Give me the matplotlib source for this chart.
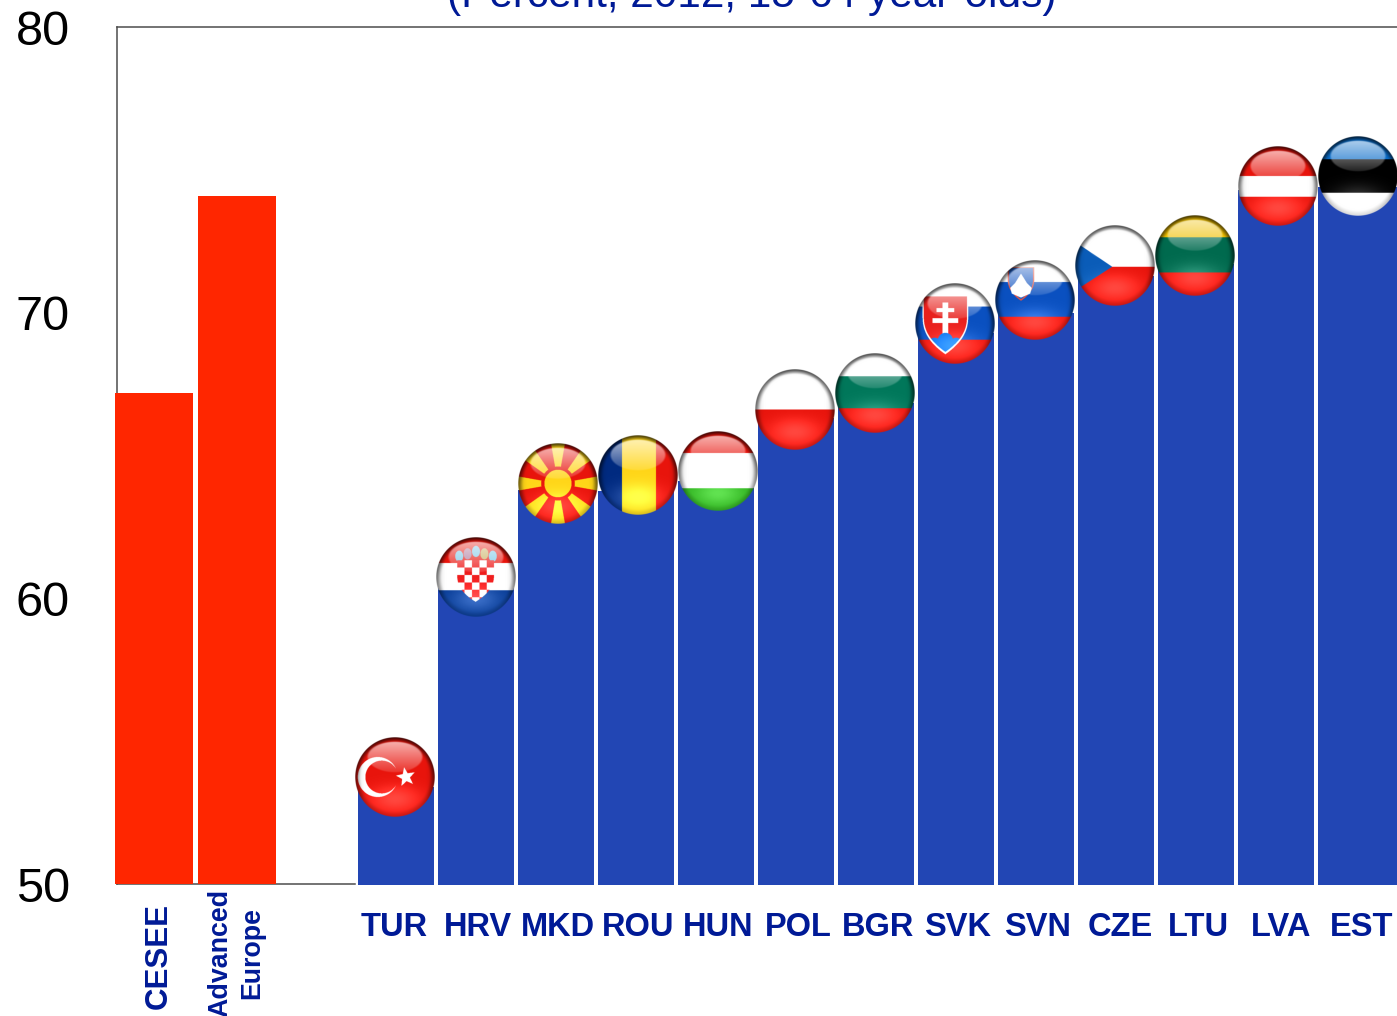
import numpy as np
import matplotlib
matplotlib.use("Agg")
import matplotlib.pyplot as plt
from matplotlib.path import Path

plt.rcParams['font.family'] = ['Liberation Sans', 'DejaVu Sans']

# ---- data ----
group_labels = ["CESEE", "Advanced\nEurope"]
group_values = [67.2, 74.1]
group_pos = [-0.025, 1.0125]

countries = ["TUR", "HRV", "MKD", "ROU", "HUN", "POL", "BGR", "SVK", "SVN", "CZE", "LTU", "LVA", "EST"]
country_values = [53.4, 60.35, 63.8, 63.75, 64.1, 66.3, 66.85, 69.3, 70.0, 71.3, 71.7, 74.3, 74.4]
country_pos = [3, 4, 5, 6, 7, 8, 9, 10, 11, 12, 13, 14, 15.02]
country_widths = [0.955] * 12 + [0.99]
badge_values = [53.75, 60.75, 64.0, 64.3, 64.45, 66.6, 67.2, 69.6, 70.45, 71.65, 72.0, 74.45, 74.8]
badge_shift = [-0.01, 0.0, 0.025, 0.025, 0.025, -0.01, -0.01, -0.01, -0.01, -0.01, -0.01, 0.025, 0.005]
label_shift = [-0.025, 0.025, 0.025, 0.025, 0.025, 0.025, 0.025, 0.025, 0.025, 0.05, 0.025, 0.0625, 0.055]
yticks = [50, 60, 70, 80]
title = "(Percent, 2012, 15-64 year-olds)"

NAVY = "#001a96"
BLUE = "#2246b4"
RED = "#ff2600"
W, H = 1397, 1016

# ---- flag badges ----
N = 320
xs = (np.arange(N) + 0.5) / N * 2 - 1
X, Y = np.meshgrid(xs, -xs)
R = np.hypot(X, Y)
PTS = np.column_stack([X.ravel(), Y.ravel()])


def c(h):
    return np.array(matplotlib.colors.to_rgb(h))


def poly(p):
    return Path(p).contains_points(PTS).reshape(X.shape)


def hstripes(cols, cuts):
    img = np.zeros(X.shape + (3,))
    img[:] = c(cols[-1])
    for col, cut in reversed(list(zip(cols[:-1], cuts))):
        img[Y > cut] = c(col)
    return img


def star(cx, cy, r, rot=90):
    a = np.deg2rad(np.arange(10) * 36 + rot)
    rr = np.where(np.arange(10) % 2 == 0, r, r * 0.42)
    return np.column_stack([cx + rr * np.cos(a), cy + rr * np.sin(a)])


def shield(l, rgt, top, bot):
    mx = (l + rgt) / 2
    t = np.linspace(0, 1, 24)
    s = top - 0.35 * (top - bot)
    right = np.column_stack([rgt - (rgt - mx) * t**2.4, s + (bot - s) * t])
    left = right[::-1].copy()
    left[:, 0] = 2 * mx - left[:, 0]
    return np.vstack([[l, top], [rgt, top], right, left])


RD = "#e8140c"
def flag(code):
    if code == "TUR":
        img = hstripes([RD], [])
        img[np.hypot(X + .43, Y) < .5] = c("#ffffff")
        img[np.hypot(X + .33, Y) < .41] = c(RD)
        img[poly(star(.27, 0, .25, 100))] = c("#ffffff")
    elif code == "HRV":
        img = hstripes([RD, "#ffffff", "#063a94"], [.35, -.33])
        cols = ["#7cc8e8", "#b07a9c", "#7cc8e8", "#c8b060", "#7cc8e8"]
        for k, col in enumerate(cols):
            cx = -.42 + k * .21
            cy = .58 + (.06 if k == 2 else 0) - (.06 if k in (0, 4) else 0)
            img[np.hypot((X - cx) / .1, (Y - cy) / .14) < 1] = c(col)
        sh = poly(shield(-.47, .45, .42, -.62))
        img[sh] = c("#ffffff")
        chk = (np.floor((X + .47) / .185) + np.floor((.42 - Y) / .185)) % 2 == 0
        img[sh & chk] = c("#ee1c1c")
    elif code == "MKD":
        img = hstripes([RD], [])
        ang = np.arctan2(Y, X)
        for k in range(8):
            a = np.deg2rad(k * 45)
            d = np.abs((ang - a + np.pi) % (2 * np.pi) - np.pi)
            img[d < np.deg2rad(10)] = c("#ffd518")
        img[R < .42] = c(RD)
        img[R < .34] = c("#ffd518")
    elif code == "ROU":
        img = hstripes([RD], [])
        img[X < .45] = c("#ffd518")
        img[X < -.4] = c("#002a80")
    elif code == "HUN":
        img = hstripes([RD, "#ffffff", "#2eb01e"], [.45, -.43])
    elif code == "POL":
        img = hstripes(["#ffffff", RD], [0])
    elif code == "BGR":
        img = hstripes(["#ffffff", "#00775a", RD], [.42, -.38])
    elif code == "SVK":
        img = hstripes(["#ffffff", "#0a50c0", RD], [.42, -.4])
        s = shield(-.78, .3, .67, -.7)
        img[poly(shield(-.81, .33, .69, -.76))] = c("#ffffff")
        img[poly(s)] = c("#e8201c")
        mx = -.24
        img[(np.abs(X - mx) < .07) & (Y > -.25) & (Y < .52)] = c("#ffffff")
        img[(np.abs(X - mx) < .22) & (np.abs(Y - .33) < .05)] = c("#ffffff")
        img[(np.abs(X - mx) < .32) & (np.abs(Y - .07) < .06)] = c("#ffffff")
        hills = (np.hypot(X - mx, Y + .42) < .19) | (np.hypot(X - mx + .27, Y + .5) < .15) | (np.hypot(X - mx - .27, Y + .5) < .15) | ((Y < -.45))
        img[poly(s) & hills] = c("#0a6fe0")
    elif code == "SVN":
        img = hstripes(["#ffffff", "#0a50c0", RD], [.45, -.42])
        img[poly(shield(-.68, -.02, .82, -.02))] = c("#e8503c")
        s = shield(-.65, -.05, .8, .02)
        img[poly(s)] = c("#1d5cc4")
        mtn = poly([(-.62, .3), (-.5, .42), (-.42, .55), (-.35, .66), (-.28, .55), (-.2, .42), (-.08, .3),
                    (-.12, .16), (-.35, .06), (-.58, .16)])
        img[mtn] = c("#ffffff")
    elif code == "CZE":
        img = hstripes(["#ffffff", RD], [-.03])
        img[poly([(-1.2, .72), (-.07, -.03), (-1.2, -.75)])] = c("#0a5cb8")
    elif code == "LTU":
        img = hstripes(["#f0c000", "#006a4e", RD], [.45, -.42])
    elif code == "LVA":
        img = hstripes([RD, "#ffffff", RD], [.25, -.27])
    else:
        img = hstripes(["#0a6cc8", "#000000", "#ffffff"], [.42, -.42])
    return img


def smooth(a, b, v):
    t = np.clip((v - a) / (b - a), 0, 1)
    return t * t * (3 - 2 * t)


def badge(code):
    img = flag(code)
    # bottom glow and edge fall-off
    glow = np.exp(-((X / .6) ** 2 + ((Y + .55) / .32) ** 2))
    img = np.clip(img + 0.2 * glow[..., None], 0, 1)
    rim = smooth(.84, 1.0, R) * (0.42 + 0.3 * Y)
    side = smooth(.74, 1.0, np.abs(X)) * 0.14
    img = img * (1 - np.clip(rim + side, 0, 1))[..., None]
    # upper highlight
    e = np.hypot(X / .72, (Y - .5) / .4)
    hl = (1 - smooth(.9, 1.0, e)) * np.clip(.12 + .55 * (Y - .1) / .8, 0, 1)
    img = img * (1 - hl[..., None]) + hl[..., None]
    alpha = 1 - smooth(.985, 1.0, R)
    return np.dstack([img, alpha])


# ---- figure ----
fig = plt.figure(figsize=(W / 100, H / 100), dpi=100)
ax = fig.add_axes([117 / W, 1 - 884 / H, (W - 117) / W, (884 - 27) / H])
ax.set_xlim(-0.4875, 15.5125)
ax.set_ylim(50, 80)

ax.bar(group_pos, np.array(group_values) - 50, bottom=50, width=0.975, color=RED, clip_on=False, zorder=3)
ax.bar(country_pos, np.array(country_values) - 49.97, bottom=49.97, width=country_widths, color=BLUE,
       clip_on=False, zorder=3)

rx, ry = 0.5, 40 / (857 / 30)
for code, p, s, v in zip(countries, country_pos, badge_shift, badge_values):
    ax.imshow(badge(code), extent=[p + s - rx, p + s + rx, v - ry, v + ry], aspect="auto",
              zorder=4, interpolation="antialiased", clip_on=True)
ax.set_xlim(-0.4875, 15.5125)
ax.set_ylim(50, 80)

ax.spines["right"].set_visible(False)
for sp in ("left", "top", "bottom"):
    ax.spines[sp].set_color("#4d4d4d")
    ax.spines[sp].set_linewidth(1.1)
ax.spines["bottom"].set_bounds(-0.4875, 2.49)
ax.set_xticks([])
ax.set_yticks(yticks)
ax.tick_params(axis="y", length=0, pad=34, labelsize=35, labelcolor="black")

for lab, p, s in zip(countries, country_pos, label_shift):
    ax.annotate(lab, (p + s, 50), xytext=(0, -37.5), textcoords="offset points", ha="center", va="baseline",
                fontsize=23.5, fontweight="bold", color=NAVY, annotation_clip=False)

ax.annotate(group_labels[0], (group_pos[0], 50), xytext=(3.6, -51.5), textcoords="offset points", ha="center",
            va="center", rotation=90, fontsize=22.5, fontweight="bold", color=NAVY, annotation_clip=False)
ax.annotate(group_labels[1], (group_pos[1], 50), xytext=(-0.5, -49.5), textcoords="offset points", ha="center",
            va="center", rotation=90, fontsize=19.3, fontweight="bold", color=NAVY, annotation_clip=False,
            multialignment="center", linespacing=1.25)

fig.text(752 / W, 1 - 7 / H, title, ha="center", va="baseline", fontsize=30.5, color=NAVY)

fig.savefig("out.png", dpi=100)
